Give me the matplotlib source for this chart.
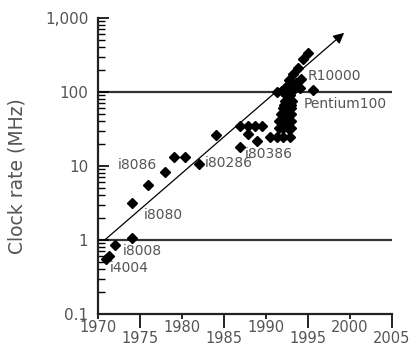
import matplotlib
matplotlib.use("Agg")
import matplotlib.pyplot as plt
from matplotlib.ticker import FixedLocator, FixedFormatter, NullFormatter

# processor clock rates (year, MHz)
years = [1971.0, 1971.3, 1972.0, 1974.0, 1974.0, 1976.0, 1978.0, 1979.0, 1980.3,
         1982.0, 1984.0, 1986.9, 1986.9, 1987.9, 1988.7, 1989.5, 1987.9, 1988.9,
         1990.5, 1991.3, 1992.0, 1992.9,
         1991.5, 1992.0, 1992.6, 1993.0,
         1991.6, 1992.1, 1992.6, 1993.0,
         1991.8, 1992.3, 1992.8, 1993.0,
         1992.0, 1992.5, 1993.0,
         1992.2, 1992.7, 1993.0,
         1992.3, 1992.8, 1993.1,
         1992.4, 1992.9,
         1991.3, 1991.9, 1992.3, 1993.0, 1993.5, 1993.6, 1992.6, 1994.0,
         1992.7, 1994.2, 1993.2, 1993.8, 1994.4, 1995.0, 1995.6]
mhz = [0.56, 0.6, 0.85, 1.05, 3.2, 5.5, 8.3, 13.2, 13.2,
       10.7, 26, 18, 35, 35, 35, 35, 27, 22,
       25, 25, 25, 25,
       33, 33, 33, 33,
       40, 40, 40, 40,
       50, 50, 50, 50,
       60, 60, 60,
       66, 66, 66,
       75, 75, 75,
       90, 90,
       100, 103, 110, 100, 120, 133, 126, 114,
       147, 150, 173, 213, 275, 340, 108]

trend_years = [1970.8, 1999.3]
trend_mhz = [1.0, 630]

labels = ["i4004", "i8008", "i8080", "i8086", "i80286", "i80386", "R10000", "Pentium100"]
label_years = [1971.4, 1972.9, 1975.5, 1972.3, 1982.7, 1987.5, 1995.0, 1994.5]
label_mhz = [0.42, 0.70, 2.2, 10.2, 10.9, 14.5, 167, 68]

ref_levels = [1, 100]

fig = plt.figure(figsize=(4.14, 3.51), dpi=100)
ax = fig.add_axes([98 / 414, 1 - 314 / 351, 294 / 414, 296 / 351])

ax.set_yscale("log")
ax.set_xlim(1970, 2005)
ax.set_ylim(0.1, 1000)

for lv in ref_levels:
    ax.plot([1970, 2005], [lv, lv], color="#333333", lw=1.6, zorder=1)

ax.plot(years, mhz, "D", color="black", ms=5, zorder=3)

ax.annotate("", xy=(trend_years[1], trend_mhz[1]), xytext=(trend_years[0], trend_mhz[0]),
            arrowprops=dict(arrowstyle="-|>", color="black", lw=0.9,
                            mutation_scale=16, shrinkA=0, shrinkB=0), zorder=2)

for t, x, y in zip(labels, label_years, label_mhz):
    ax.text(x, y, t, fontsize=10, color="#555555", ha="left", va="center", zorder=4)

for s in ["top", "right"]:
    ax.spines[s].set_visible(False)
for s in ["left", "bottom"]:
    ax.spines[s].set_linewidth(1.6)
    ax.spines[s].set_color("#222222")

# y axis: inward ticks
ax.set_yticks([0.1, 1, 10, 100, 1000])
ax.set_yticklabels(["0.1", "1", "10", "100", "1,000"])
ax.tick_params(axis="y", which="major", direction="in", length=8, width=1.2,
               pad=7, labelsize=11, labelcolor="#555555")
ax.tick_params(axis="y", which="minor", direction="in", length=5, width=1.0)
ax.yaxis.set_minor_formatter(NullFormatter())

# x axis: staggered labels
ax.xaxis.set_major_locator(FixedLocator([1970, 1980, 1990, 2000]))
ax.xaxis.set_major_formatter(FixedFormatter(["1970", "1980", "1990", "2000"]))
ax.xaxis.set_minor_locator(FixedLocator([1975, 1985, 1995, 2005]))
ax.xaxis.set_minor_formatter(FixedFormatter(["1975", "1985", "1995", "2005"]))
ax.tick_params(axis="x", which="major", direction="out", length=3.5, width=1.2,
               pad=0.8, labelsize=10.5, labelcolor="#555555")
ax.tick_params(axis="x", which="minor", direction="out", length=10, width=1.2,
               pad=2.5, labelsize=10.5, labelcolor="#555555")

fig.text(17 / 414, 1 - 176 / 351, "Clock rate (MHz)", rotation=90, fontsize=13.5,
         color="#555555", ha="center", va="center")

fig.savefig("out.png", dpi=100)
